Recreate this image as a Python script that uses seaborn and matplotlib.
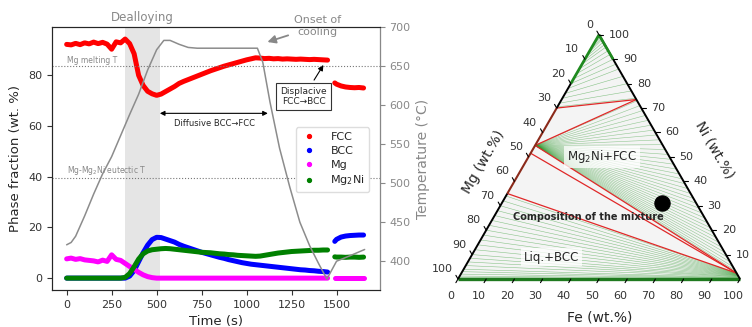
import numpy as np
import pandas as pd
import matplotlib
matplotlib.use("Agg")
import matplotlib.pyplot as plt
import seaborn as sns
from matplotlib.lines import Line2D

# ---------------- data: in-situ phase fractions ----------------
time_a = [0, 25, 50, 75, 100, 125, 150, 175, 200, 225, 250, 275, 300, 325, 350,
          375, 400, 425, 450, 475, 500, 525, 550, 575, 600, 625, 650, 675, 700,
          725, 750, 775, 800, 825, 850, 875, 900, 925, 950, 975, 1000, 1025,
          1050, 1075, 1100, 1125, 1150, 1175, 1200, 1225, 1250, 1275, 1300,
          1325, 1350, 1375, 1400, 1425, 1450]
time_b = [1490, 1500, 1525, 1550, 1575, 1600, 1625, 1650]

fcc_a = [92.2, 92.0, 92.6, 92.1, 92.8, 92.4, 93.1, 92.5, 93.0, 92.3, 90.3, 93.2,
         92.8, 94.3, 92.5, 88.5, 80.0, 76.0, 73.7, 72.7, 72.1, 72.6, 73.6, 74.6,
         75.6, 76.8, 77.6, 78.3, 79.0, 79.7, 80.4, 81.1, 81.8, 82.4, 83.0, 83.6,
         84.1, 84.6, 85.1, 85.6, 86.1, 86.5, 86.9, 86.8, 86.6, 86.7, 86.5, 86.6,
         86.4, 86.5, 86.4, 86.3, 86.4, 86.3, 86.2, 86.3, 86.2, 86.1, 86.0]
fcc_b = [77.0, 76.5, 75.8, 75.4, 75.2, 75.1, 75.2, 75.0]

bcc_a = [0, 0, 0, 0, 0, 0, 0, 0, 0, 0, 0, 0, 0, 0, 0.8, 3.0, 6.5, 10.0, 13.0,
         15.2, 16.1, 16.0, 15.4, 14.8, 14.2, 13.3, 12.6, 12.0, 11.4, 10.8, 10.2,
         9.7, 9.2, 8.7, 8.2, 7.8, 7.3, 6.9, 6.5, 6.1, 5.8, 5.5, 5.3, 5.1, 4.9,
         4.7, 4.5, 4.3, 4.1, 3.9, 3.7, 3.5, 3.3, 3.2, 3.0, 2.9, 2.7, 2.6, 2.4]
bcc_b = [14.5, 15.3, 16.2, 16.6, 16.8, 16.9, 17.0, 17.0]

mg_a = [7.6, 7.9, 7.4, 7.7, 7.2, 7.0, 6.8, 6.4, 7.1, 6.6, 9.2, 7.4, 7.0, 5.8,
        4.6, 3.5, 2.3, 1.3, 0.6, 0.2, 0, 0, 0, 0, 0, 0, 0, 0, 0, 0, 0, 0, 0, 0,
        0, 0, 0, 0, 0, 0, 0, 0, 0, 0, 0, 0, 0, 0, 0, 0, 0, 0, 0, 0, 0, 0, 0, 0, 0]
mg_b = [0, 0, 0, 0, 0, 0, 0, 0]

mg2ni_a = [0, 0, 0, 0, 0, 0, 0, 0, 0, 0, 0, 0, 0, 0.3, 1.8, 4.5, 7.5, 9.6, 10.7,
           11.2, 11.4, 11.6, 11.7, 11.6, 11.4, 11.2, 11.0, 10.8, 10.6, 10.4,
           10.2, 10.1, 10.0, 9.8, 9.6, 9.5, 9.3, 9.2, 9.0, 8.9, 8.8, 8.7, 8.6,
           8.7, 9.0, 9.3, 9.6, 9.9, 10.1, 10.3, 10.5, 10.6, 10.7, 10.8, 10.9,
           11.0, 11.0, 11.1, 11.1]
mg2ni_b = [8.4, 8.3, 8.3, 8.2, 8.3, 8.3, 8.2, 8.3]

temp_time = [0, 25, 50, 100, 150, 200, 250, 300, 350, 400, 450, 500, 540, 575,
             625, 675, 725, 800, 900, 1000, 1060, 1090, 1130, 1183, 1240, 1296,
             1350, 1400, 1446, 1500, 1575, 1656]
temp_vals = [421, 424, 432, 458, 486, 512, 534, 561, 588, 614, 645, 671, 683,
             683, 678, 674, 673, 673, 673, 673, 673, 655, 604, 545, 495, 450,
             420, 397, 377, 400, 407, 415]

phase_names = ["FCC", "BCC", "Mg", "Mg2Ni"]
phase_labels = ["FCC", "BCC", "Mg", "Mg$_2$Ni"]
phase_colors = ["#ff0000", "#0000ff", "#ff00ff", "#008000"]

# ---------------- data: ternary Fe-Mg-Ni section (wt.%, given as (Fe, Ni)) ----------------
top_fan_left_ni = [99.5, 98.5, 97, 95.5, 94, 92.5, 91, 89.5, 88, 86, 84, 82, 80,
                   78, 76, 74, 72, 70.5]
top_fan_right_ni = [99.9, 99.7, 99.4, 99, 98.5, 98, 97, 96, 95, 93.5, 92, 90,
                    88, 86, 83, 80, 77, 74]
mg2ni_point = (0, 54.7)
mg2ni_fan_right_ni = [73, 71, 69, 67, 65, 63, 61, 59, 57, 55, 53, 51, 49, 47, 45,
                      43, 41, 39, 37, 35, 33, 31, 29, 27, 25, 23, 21, 19, 17, 15,
                      13, 11, 9, 7, 5, 3.5]
liq_fan_left_ni = [34, 32, 30, 28, 26, 24, 22, 20, 18, 16, 14, 12, 10, 8.5, 7,
                   5.5, 4, 3, 2, 1.2, 0.6]
liq_fan_right_ni = [2.4, 2.3, 2.2, 2.1, 2.0, 1.9, 1.8, 1.7, 1.6, 1.5, 1.4, 1.3,
                    1.2, 1.0, 0.9, 0.7, 0.5, 0.4, 0.3, 0.2, 0.1]
red_lines = [((0, 70), (26.5, 73.5)),
             ((0, 54.7), (26.5, 73.5)),
             ((0, 54.7), (97.6, 2.4)),
             ((0, 51.5), (97.6, 2.4)),
             ((0, 35), (97.6, 2.4))]
mixture = (57, 31)
tern_ticks = [0, 10, 20, 30, 40, 50, 60, 70, 80, 90, 100]

H = np.sqrt(3) / 2


def to_xy(fe, ni):
    return fe + ni / 2, ni * H


# ---------------- figure ----------------
sns.set_style("ticks")
plt.rcParams["font.family"] = ["DejaVu Sans"]
fig = plt.figure(figsize=(7.52, 3.27), dpi=100)

ax = fig.add_axes([0.069, 0.113, 0.436, 0.804])

rows = []
for name, va, vb in zip(phase_names, [fcc_a, bcc_a, mg_a, mg2ni_a],
                        [fcc_b, bcc_b, mg_b, mg2ni_b]):
    for t, v in zip(time_a, va):
        rows.append((t, v, name, "a"))
    for t, v in zip(time_b, vb):
        rows.append((t, v, name, "b"))
df = pd.DataFrame(rows, columns=["time", "value", "phase", "segment"])

ax.axvspan(325, 520, color="#e5e5e5", zorder=0, lw=0)
sns.lineplot(data=df, x="time", y="value", hue="phase", units="segment",
             estimator=None, hue_order=phase_names,
             palette=dict(zip(phase_names, phase_colors)),
             lw=3.6, legend=False, ax=ax, zorder=3)

ax.set_xlim(-82, 1740)
ax.set_ylim(-4.7, 99)
ax.set_xticks([0, 250, 500, 750, 1000, 1250, 1500])
ax.set_yticks([0, 20, 40, 60, 80])
ax.tick_params(labelsize=8, colors="#333333")
ax.set_xlabel("Time (s)", fontsize=9.5)
ax.set_ylabel("Phase fraction (wt. %)", fontsize=9.5)
for s in ax.spines.values():
    s.set_color("#444444")

ax2 = ax.twinx()
sns.lineplot(x=temp_time, y=temp_vals, ax=ax2, color="#8c8c8c", lw=1.1)
ax2.axhline(650, ls=":", color="#777777", lw=0.8)
ax2.axhline(506, ls=":", color="#777777", lw=0.8)
ax2.text(0, 652, "Mg melting T", fontsize=5.5, color="#888888", va="bottom")
ax2.text(0, 508, "Mg-Mg$_2$Ni eutectic T", fontsize=5.5, color="#888888",
         va="bottom")
ax2.set_ylim(363, 697.5)
ax2.set_yticks([400, 450, 500, 550, 600, 650, 700])
ax2.tick_params(labelsize=8, colors="#888888")
ax2.set_ylabel("Temperature (°C)", fontsize=10, color="#888888")
ax2.spines["right"].set_color("#888888")

ax.text(420, 102.8, "Dealloying", ha="center", va="center", color="#888888",
        fontsize=8.5)
ax.annotate("Onset of\ncooling", xy=(1101, 92.8), xytext=(1395, 99.5),
            ha="center", va="center", color="#888888", fontsize=8,
            annotation_clip=False,
            arrowprops=dict(arrowstyle="-|>", color="#888888", lw=1.3,
                            mutation_scale=12))
ax.annotate("Displacive\nFCC→BCC", xy=(1435, 85), xytext=(1318, 71.6),
            ha="center", va="center", fontsize=6.5, zorder=6,
            bbox=dict(boxstyle="square,pad=0.45", fc="white", ec="#333333",
                      lw=0.8),
            arrowprops=dict(arrowstyle="-|>", color="black", lw=0.8,
                            mutation_scale=8))
ax.annotate("", xy=(518, 65), xytext=(1118, 65),
            arrowprops=dict(arrowstyle="<|-|>", color="black", lw=0.8,
                            mutation_scale=7, shrinkA=0, shrinkB=0))
ax.text(824, 60.8, "Diffusive BCC→FCC", ha="center", va="center", fontsize=6)

handles = [Line2D([], [], ls="", marker="o", ms=2.8, color=c)
           for c in phase_colors]
leg = ax2.legend(handles, phase_labels, loc="upper right",
                 bbox_to_anchor=(0.985, 0.64), fontsize=8, handlelength=1.5,
                 handletextpad=1.2, labelspacing=0.35, framealpha=1,
                 edgecolor="#dddddd")

# ---------------- ternary panel ----------------
ax3 = fig.add_axes([430 / 752, 0, 322 / 752, 1])
ax3.set_xlim(-9.93, 104.26)
ax3.set_ylim(-17.02, 98.94)
ax3.axis("off")

tri = np.array([to_xy(0, 0), to_xy(100, 0), to_xy(0, 100)])
ax3.fill(tri[:, 0], tri[:, 1], color="#f4f4f4", zorder=0, lw=0)

green = "#2f9a2f"
for ln, rn in zip(top_fan_left_ni, top_fan_right_ni):
    p, q = to_xy(0, ln), to_xy(100 - rn, rn)
    ax3.plot([p[0], q[0]], [p[1], q[1]], color=green, lw=0.4, alpha=0.55, zorder=1)
for rn in mg2ni_fan_right_ni:
    p, q = to_xy(*mg2ni_point), to_xy(100 - rn, rn)
    ax3.plot([p[0], q[0]], [p[1], q[1]], color=green, lw=0.4, alpha=0.5, zorder=1)
for ln, rn in zip(liq_fan_left_ni, liq_fan_right_ni):
    p, q = to_xy(0, ln), to_xy(100 - rn, rn)
    ax3.plot([p[0], q[0]], [p[1], q[1]], color=green, lw=0.4, alpha=0.55, zorder=1)

for a, b in red_lines:
    p, q = to_xy(*a), to_xy(*b)
    ax3.plot([p[0], q[0]], [p[1], q[1]], color="#e02828", lw=0.9, zorder=2)

# triangle edges
def edge(a, b, color, lw):
    p, q = to_xy(*a), to_xy(*b)
    ax3.plot([p[0], q[0]], [p[1], q[1]], color=color, lw=lw, zorder=3,
             solid_capstyle="butt")

edge((0, 0), (100, 0), "#1f7a1f", 2.4)
edge((100, 0), (0, 100), "black", 1.4)
edge((10, 90), (0, 100), "#1f8a1f", 2.0)
edge((0, 0), (0, 35), "black", 1.4)
edge((0, 35), (0, 70), "#8b2a1a", 1.5)
edge((0, 70), (0, 80), "black", 1.4)
edge((0, 80), (0, 100), "#1f8a1f", 2.0)

tick_col = "#333333"
for v in tern_ticks:
    # bottom (Fe)
    x0, y0 = to_xy(v, 0)
    ax3.plot([x0, x0 - 0.75], [y0, y0 - 1.3], color="black", lw=0.8, zorder=3)
    ax3.text(x0 - 2.5, y0 - 4.3, str(v), ha="center", va="top", fontsize=8,
             color=tick_col)
    # left (Mg): Mg = v -> Ni = 100 - v
    x0, y0 = to_xy(0, 100 - v)
    ax3.plot([x0, x0 - 0.75], [y0, y0 + 1.3], color="black", lw=0.8, zorder=3)
    ax3.text(x0 - 2.0, y0 + 3.5, str(v), ha="right", va="center", fontsize=8,
             color=tick_col)
    # right (Ni); the 0 label falls outside the figure in the reference
    if v == 0:
        continue
    x0, y0 = to_xy(100 - v, v)
    ax3.plot([x0, x0 + 1.5], [y0, y0], color="black", lw=0.8, zorder=3)
    ax3.text(x0 + 3.5, y0, str(v), ha="left", va="center", fontsize=8,
             color=tick_col)

ax3.text(50.4, -13.8, "Fe (wt.%)", ha="center", va="center", fontsize=10)
ax3.text(8.9, 41.5, "Mg (wt.%)", ha="center", va="center", fontsize=10,
         rotation=60)
ax3.text(91.1, 45.7, "Ni (wt.%)", ha="center", va="center", fontsize=10,
         rotation=-60)

mx, my = to_xy(*mixture)
sns.scatterplot(x=[mx], y=[my], color="black", s=120, ax=ax3, zorder=5,
                edgecolor="black")
ax3.text(46.1, 22.0, "Composition of the mixture", ha="center", va="center",
         fontsize=7, fontweight="bold", zorder=6)
ax3.text(51.1, 43.3, "Mg$_2$Ni+FCC", ha="center", va="center", fontsize=8.5,
         zorder=6, bbox=dict(fc="white", ec="none", alpha=0.75, pad=2))
ax3.text(33.3, 7.8, "Liq.+BCC", ha="center", va="center", fontsize=8.5,
         zorder=6, bbox=dict(fc="white", ec="none", alpha=0.75, pad=2))

fig.savefig("out.png", dpi=100)
